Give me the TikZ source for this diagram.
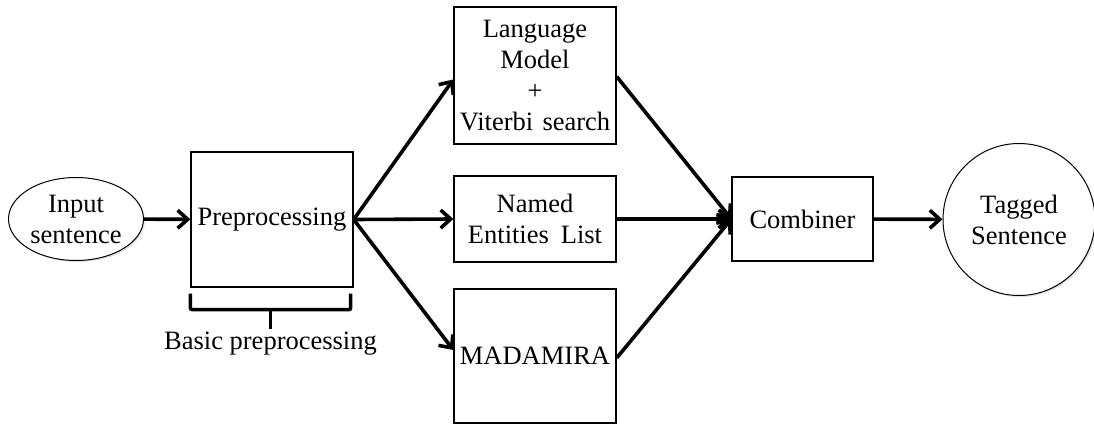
\documentclass[tikz,border=0pt]{standalone}
\usepackage{fontspec}
\setmainfont{Liberation Serif}
\usetikzlibrary{arrows.meta,shapes.geometric,shadows,calc}
\begin{document}
\begin{tikzpicture}[x=1pt,y=-1pt,
  every node/.style={font=\fontsize{26.5}{31}\selectfont, align=center, inner sep=0pt},
  box/.style={draw, line width=1.3pt, rectangle},
  soft/.style={drop shadow={opacity=0.25, shadow xshift=1.5pt, shadow yshift=-1.5pt}},
  flow/.style={line width=3.6pt, -{Straight Barb[length=10pt, width=18pt, line width=3.6pt]}},
  brace/.style={line width=3.6pt, rounded corners=2pt}]
\useasboundingbox (0,0) rectangle (1094,425);

% inputs, processing stages and output
\node[ellipse, draw, line width=1pt, fill=white, soft, minimum width=135pt, minimum height=83pt] (in) at (76,219) {Input\\sentence};
\node[box, minimum width=162pt, minimum height=135pt] (pre) at (272,219.5) {Preprocessing};
\node[box, minimum width=162pt, minimum height=137pt] (lm) at (535,75.5) {Language\\Model\\+\\Viterbi\hspace{0.35em}search};
\node[box, minimum width=162pt, minimum height=86pt] (ne) at (535,219) {Named\\Entities\hspace{0.45em}List};
\node[box, minimum width=162pt, minimum height=134pt] (mad) at (535,356) {MADAMIRA};
\node[box, minimum width=141pt, minimum height=84pt] (comb) at (802.5,219) {Combiner};
\node[circle, draw, line width=1pt, fill=white, soft, minimum size=152pt] (tag) at (1019,219.5) {Tagged\\Sentence};

% bracket under the preprocessing box
\coordinate (bl) at ([yshift=-6pt]pre.south west);
\coordinate (br) at ([yshift=-6pt,xshift=-3pt]pre.south east);
\draw[brace] (bl) -- ++(0,16) -| (br);
\coordinate (bm) at ($(bl)!0.5!(br)$);
\draw[line width=3.6pt] ([yshift=-15pt]bm) -- ++(0,20) coordinate (btip);
\node[anchor=north] (basic) at ([yshift=-3pt]btip) {Basic preprocessing};

% connectors
\draw[flow] (in) -- (pre);
\draw[flow] (pre.east) -- ([yshift=-4pt]lm.west);
\draw[flow] (pre.east) -- (ne.west);
\draw[flow] (pre.east) -- ([yshift=6pt]mad.west);
\draw[flow] ([yshift=-1pt]lm.east) -- (comb.west);
\draw[flow] (ne.east) -- (comb.west);
\draw[flow] ([yshift=-2pt]mad.east) -- (comb.west);
\draw[flow] (comb) -- (tag);
\end{tikzpicture}
\end{document}
